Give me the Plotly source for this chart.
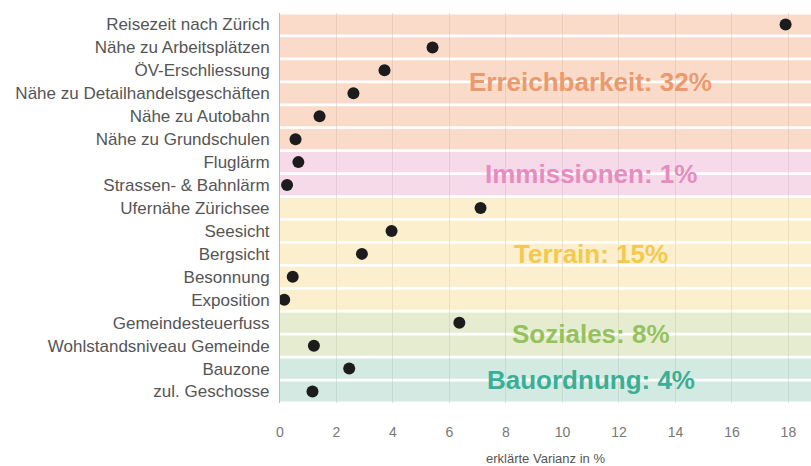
import plotly.graph_objects as go

# ---- data ----
categories = [
    "Reisezeit nach Zürich", "Nähe zu Arbeitsplätzen", "ÖV-Erschliessung",
    "Nähe zu Detailhandelsgeschäften", "Nähe zu Autobahn", "Nähe zu Grundschulen",
    "Fluglärm", "Strassen- & Bahnlärm",
    "Ufernähe Zürichsee", "Seesicht", "Bergsicht", "Besonnung", "Exposition",
    "Gemeindesteuerfuss", "Wohlstandsniveau Gemeinde",
    "Bauzone", "zul. Geschosse",
]
values = [17.9, 5.4, 3.7, 2.6, 1.4, 0.55, 0.65, 0.25,
          7.1, 3.95, 2.9, 0.45, 0.15, 6.35, 1.2, 2.45, 1.15]
groups = ["Erreichbarkeit"] * 6 + ["Immissionen"] * 2 + ["Terrain"] * 5 + \
         ["Soziales"] * 2 + ["Bauordnung"] * 2
group_names = ["Erreichbarkeit", "Immissionen", "Terrain", "Soziales", "Bauordnung"]
group_shares = [32, 1, 15, 8, 4]
x_ticks = [0, 2, 4, 6, 8, 10, 12, 14, 16, 18]

# ---- styles ----
X_MAX = 18.8
band_colors = {
    "Erreichbarkeit": "rgba(244,175,135,0.45)",
    "Immissionen": "rgba(235,173,208,0.45)",
    "Terrain": "rgba(246,219,144,0.45)",
    "Soziales": "rgba(199,213,151,0.45)",
    "Bauordnung": "rgba(155,208,188,0.45)",
}
label_colors = {
    "Erreichbarkeit": "#EB9A6E",
    "Immissionen": "#E68CBF",
    "Terrain": "#F3C94E",
    "Soziales": "#95C25A",
    "Bauordnung": "#3BAF95",
}
FONT = "Liberation Sans, Arial, sans-serif"

fig = go.Figure()

for g in group_names:
    cats = [c for c, gg in zip(categories, groups) if gg == g]
    fig.add_trace(go.Bar(
        orientation="h", y=cats, x=[X_MAX] * len(cats), base=0,
        width=0.88, marker=dict(color=band_colors[g], line=dict(width=0)),
        hoverinfo="skip", showlegend=False,
    ))

fig.add_trace(go.Scatter(
    x=values, y=categories, mode="markers",
    marker=dict(color="#1c1c1c", size=12),
    showlegend=False,
))

annotations = []
for g, share in zip(group_names, group_shares):
    idx = [i for i, gg in enumerate(groups) if gg == g]
    ypos = sum(idx) / len(idx)
    annotations.append(dict(
        x=11.0, y=ypos, xref="x", yref="y",
        text=f"<b>{g}: {share}%</b>", showarrow=False,
        font=dict(family=FONT, size=26, color=label_colors[g]),
        xanchor="center", yanchor="middle",
    ))

fig.update_layout(
    width=811, height=466,
    margin=dict(l=280, r=0, t=13, b=63),
    paper_bgcolor="white", plot_bgcolor="white",
    barmode="overlay",
    annotations=annotations,
    font=dict(family=FONT),
    xaxis=dict(
        range=[0, X_MAX], tickvals=x_ticks, showgrid=True, automargin=False,
        gridcolor="rgba(0,0,0,0.11)", gridwidth=1, zeroline=False,
        ticks="outside", ticklen=16, tickcolor="rgba(0,0,0,0)",
        tickfont=dict(family=FONT, size=14, color="#777777"),
        title=dict(text="erklärte Varianz in %", standoff=15,
                   font=dict(family=FONT, size=13, color="#555555")),
    ),
    yaxis=dict(
        type="category", categoryorder="array", categoryarray=categories,
        range=[len(categories) - 0.5, -0.5], showgrid=False, zeroline=False,
        automargin=False,
        showline=True, linecolor="#bbbbbb", linewidth=1,
        ticks="outside", ticklen=6, tickcolor="rgba(0,0,0,0)",
        tickfont=dict(family=FONT, size=17, color="#555555"),
    ),
)

fig.write_html(
    "out.html",
    config={"displayModeBar": False},
    post_script="document.body.style.margin='0';document.body.style.padding='0';",
)
